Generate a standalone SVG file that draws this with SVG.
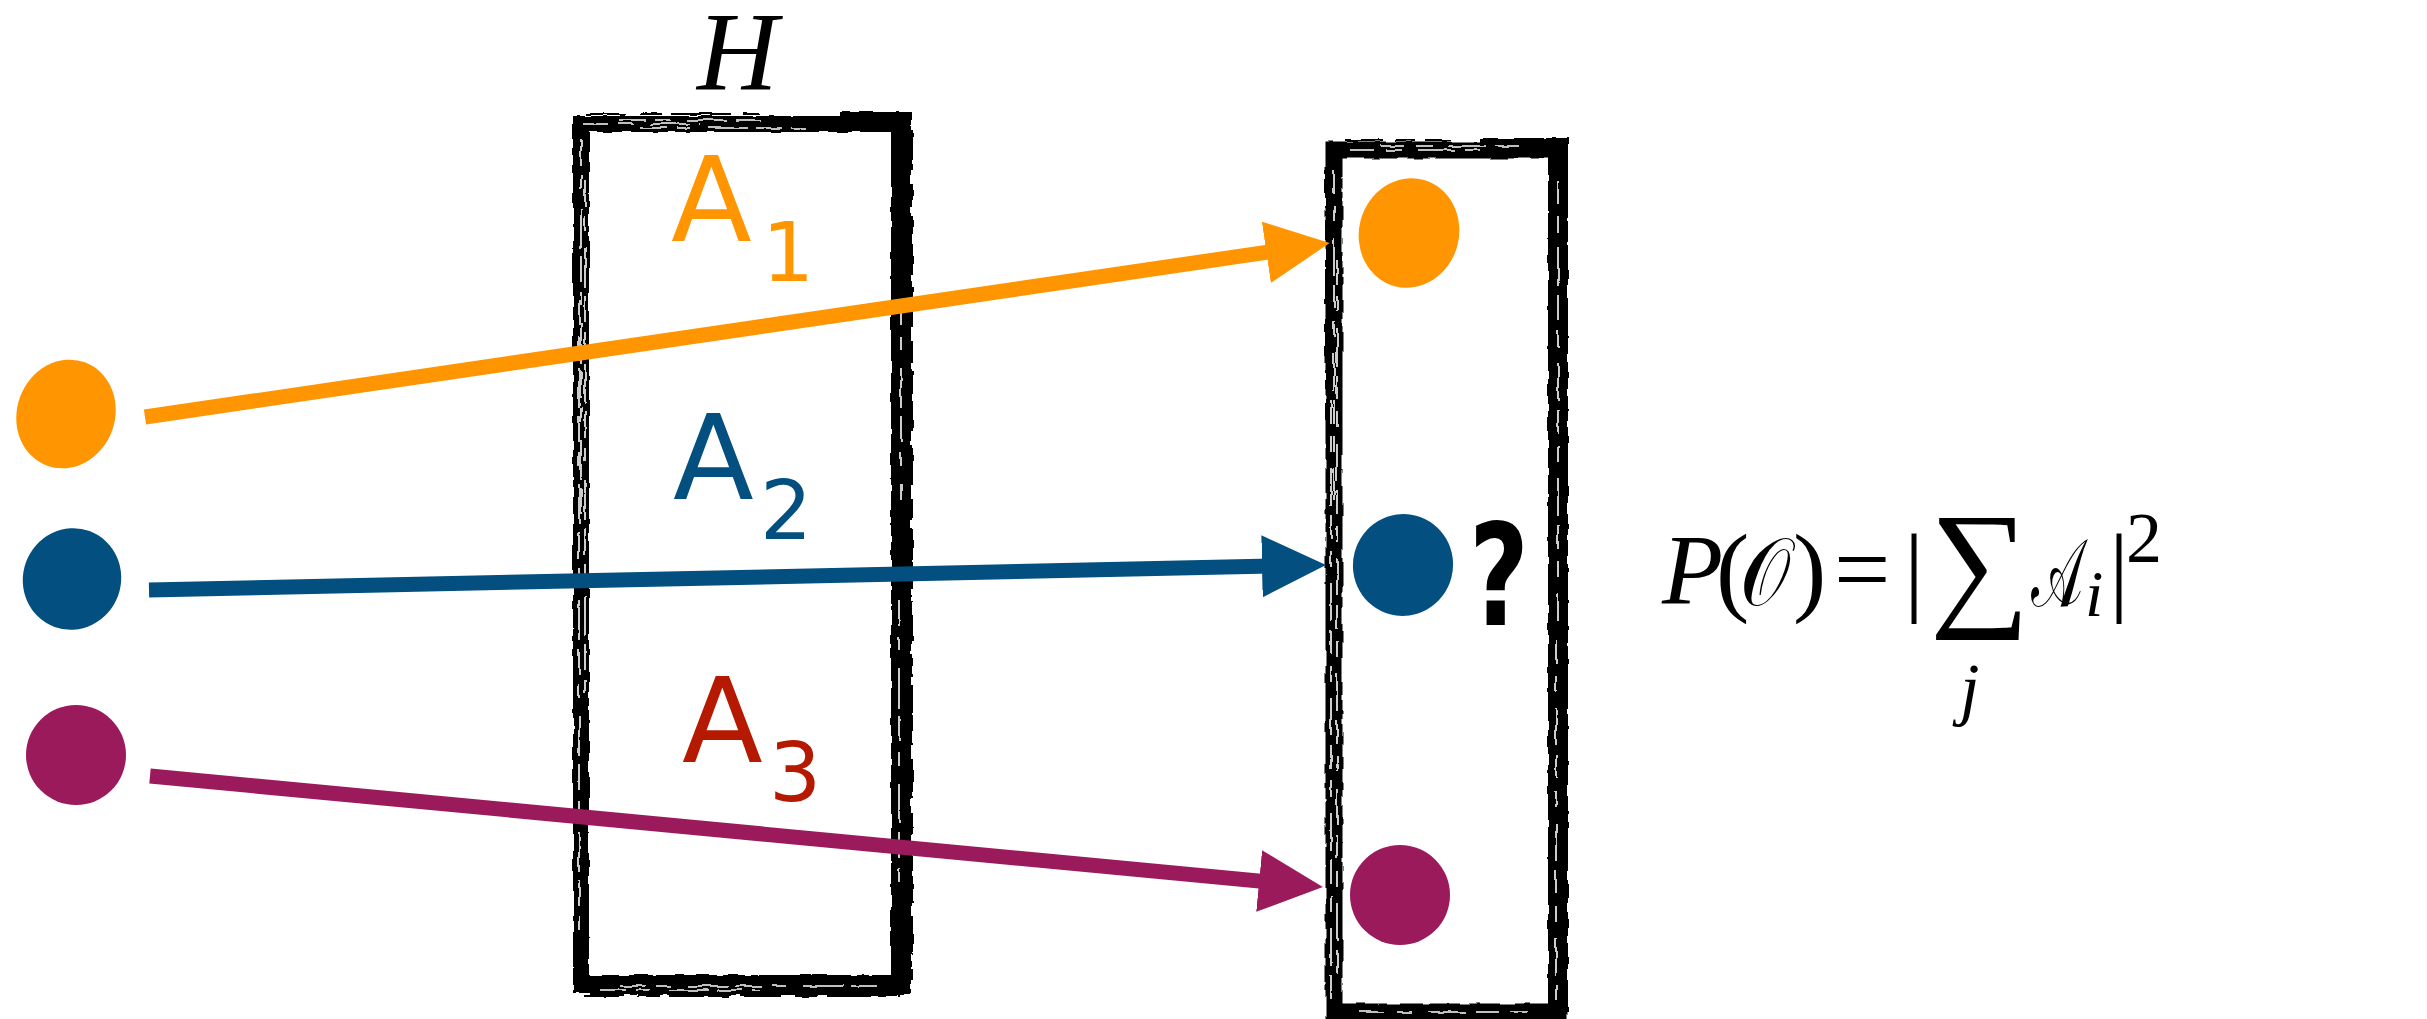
<svg xmlns="http://www.w3.org/2000/svg" width="2427" height="1019" viewBox="0 0 2427 1019">
  <style>
    .box { fill: none; stroke: #000; stroke-width: 16; stroke-linejoin: miter; }
    .streak { fill: none; stroke: #fff; stroke-width: 1.6; }
    .edge { fill: none; stroke: #000; stroke-width: 2; }
    .conn { fill: none; stroke-width: 15; stroke-linecap: butt; }
    .lbl { font-family: "DejaVu Sans", sans-serif; font-size: 118px; }
    .sub { font-family: "DejaVu Sans", sans-serif; font-size: 82px; }
    .math { font-family: "Liberation Serif", "DejaVu Serif", serif; }
    .it { font-style: italic; }
  </style>
  <defs>
    <filter id="rough" x="-5%" y="-5%" width="110%" height="110%">
      <feTurbulence type="fractalNoise" baseFrequency="0.06" numOctaves="2" seed="7" result="n"/>
      <feDisplacementMap in="SourceGraphic" in2="n" scale="4" xChannelSelector="R" yChannelSelector="G"/>
    </filter>
    <marker id="ah-orange" viewBox="0 0 64 62" refX="34" refY="31" markerWidth="64" markerHeight="62" markerUnits="userSpaceOnUse" orient="auto">
      <path d="M0,0 L64,31 L0,62 Z" fill="#FF9500"/>
    </marker>
    <marker id="ah-blue" viewBox="0 0 64 62" refX="34" refY="31" markerWidth="64" markerHeight="62" markerUnits="userSpaceOnUse" orient="auto">
      <path d="M0,0 L64,31 L0,62 Z" fill="#034F7F"/>
    </marker>
    <marker id="ah-purple" viewBox="0 0 64 62" refX="34" refY="31" markerWidth="64" markerHeight="62" markerUnits="userSpaceOnUse" orient="auto">
      <path d="M0,0 L64,31 L0,62 Z" fill="#9A1A5B"/>
    </marker>
  </defs>
  <rect width="2427" height="1019" fill="#fff"/>

  <!-- H box -->
  <g id="box-H" filter="url(#rough)">
    <path class="box" d="M581,124 H901 V985 H581 Z"/>
    <path class="box" d="M840,122 H901 V985 H590" style="stroke-width:20"/>
    <path class="edge" d="M586,114 H760 M574,140 V400 M895,136 V600 M584,996 H900 M912,130 V980" stroke-dasharray="40 14 22 9 60 12"/>
    <path class="streak" d="M583,124 H700 M620,120 H760 M640,128 H820 M581,140 V520 M585,180 V700 M579,300 V940 M901,300 V500 M899,600 V900 M620,986 H880 M600,990 H760" stroke-dasharray="26 10 14 18 40 8"/>
  </g>
  <text id="label-H" class="math it" x="697" y="89" font-size="112">H</text>

  <!-- Right (output) box -->
  <g id="box-out" filter="url(#rough)">
    <path class="box" d="M1334,150 H1558 V1012 H1334 Z" style="stroke-width:17"/>
    <path class="box" d="M1480,148 H1558 V1012" style="stroke-width:20"/>
    <path class="edge" d="M1345,140 H1450 M1326,170 V420 M1567,160 V1000 M1330,1019 H1560" stroke-dasharray="38 12 20 10 55 14"/>
    <path class="streak" d="M1350,150 H1480 M1380,146 H1520 M1334,170 V500 M1337,260 V980 M1331,400 V1000 M1558,180 V620 M1556,640 V1000 M1360,1012 H1540" stroke-dasharray="24 12 16 16 38 9"/>
  </g>

  <!-- Connectors -->
  <g id="connectors">
    <line class="conn" x1="145" y1="417" x2="1300" y2="247.4" stroke="#FF9500" marker-end="url(#ah-orange)"/>
    <line class="conn" x1="149" y1="590" x2="1296" y2="565.6" stroke="#034F7F" marker-end="url(#ah-blue)"/>
    <line class="conn" x1="150" y1="776" x2="1293" y2="884.2" stroke="#9A1A5B" marker-end="url(#ah-purple)"/>
  </g>

  <!-- Source particles -->
  <g id="src-orange"><ellipse cx="66" cy="414" rx="49" ry="55" transform="rotate(20 66 414)" fill="#FF9500"/></g>
  <g id="src-blue"><ellipse cx="72" cy="579" rx="49" ry="51" transform="rotate(20 72 579)" fill="#034F7F"/></g>
  <g id="src-purple"><ellipse cx="76" cy="755" rx="50" ry="50" fill="#9A1A5B"/></g>

  <!-- Output particles -->
  <g id="out-orange"><ellipse cx="1409" cy="233" rx="50" ry="55" transform="rotate(15 1409 233)" fill="#FF9500"/></g>
  <g id="out-blue"><ellipse cx="1403" cy="565" rx="50" ry="51" transform="rotate(15 1403 565)" fill="#034F7F"/></g>
  <g id="out-purple"><ellipse cx="1400" cy="895" rx="50" ry="50" fill="#9A1A5B"/></g>

  <g id="question">
    <text x="1469" y="625" textLength="60" lengthAdjust="spacingAndGlyphs" font-family="'DejaVu Sans', sans-serif" font-weight="bold" font-size="141">?</text>
  </g>

  <!-- Amplitude labels -->
  <g id="label-A1" fill="#FF9500">
    <text class="lbl" x="671" y="241">A</text>
    <text class="sub" x="762" y="281">1</text>
  </g>
  <g id="label-A2" fill="#034F7F">
    <text class="lbl" x="673" y="499">A</text>
    <text class="sub" x="760" y="539">2</text>
  </g>
  <g id="label-A3" fill="#B51A00">
    <text class="lbl" x="682" y="762">A</text>
    <text class="sub" x="769" y="801">3</text>
  </g>

  <!-- Formula -->
  <g id="formula" class="math" fill="#000">
    <text class="it" x="1662" y="603" font-size="100">P</text>
    <text x="1716" y="603" font-size="100">(</text>
    <text x="1740" y="605" font-size="96" textLength="50" lengthAdjust="spacingAndGlyphs">𝒪</text>
    <text x="1793" y="603" font-size="100">)</text>
    <text x="1834" y="603" font-size="100">=</text>
    <text x="1904" y="603" font-size="100">|</text>
    <text x="1930" y="610" font-size="140">∑</text>
    <text class="it" x="1960" y="712" font-size="70">j</text>
    <text x="2031" y="606" font-size="96" textLength="52" lengthAdjust="spacingAndGlyphs">𝒜</text>
    <text class="it" x="2085" y="616" font-size="66">i</text>
    <text x="2109" y="603" font-size="100">|</text>
    <text x="2126" y="562" font-size="72">2</text>
  </g>
</svg>
